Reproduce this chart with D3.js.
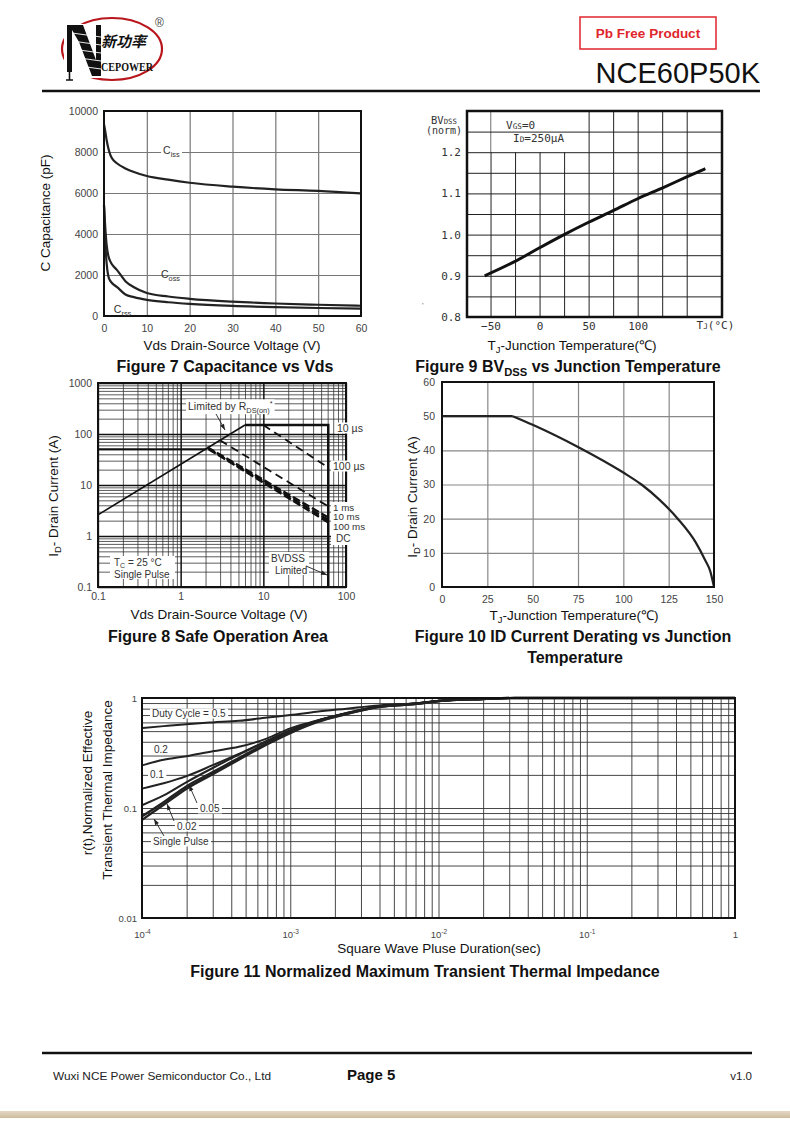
<!DOCTYPE html>
<html>
<head>
<meta charset="utf-8">
<script src="https://cdn.jsdelivr.net/npm/d3@7"></script>
<style>
body { margin: 0; background: #fff; }
</style>
</head>
<body>
<div id="page"></div>
<script>
// ---- Figure 7 : capacitance vs Vds
const capV  = [0, 0.3, 0.6, 1, 1.5, 2, 3, 5, 7, 10, 15, 20, 30, 40, 50, 60];
const ciss  = [9350, 9000, 8600, 8200, 7850, 7650, 7450, 7200, 7020, 6830, 6650, 6500, 6310, 6180, 6100, 5980];
const coss  = [5400, 4300, 3500, 2950, 2650, 2480, 2250, 1700, 1400, 1120, 950, 840, 700, 610, 550, 500];
const crss  = [5400, 3600, 2600, 1950, 1700, 1580, 1420, 1050, 920, 790, 670, 590, 490, 430, 390, 360];
const capXTicks = [0, 10, 20, 30, 40, 50, 60];
const capYTicks = [0, 2000, 4000, 6000, 8000, 10000];

// ---- Figure 9 : BVdss (norm) vs Tj
const bvTj   = [-56, -25, 0, 25, 50, 75, 100, 125, 150, 169];
const bvNorm = [0.900, 0.935, 0.968, 1.000, 1.030, 1.058, 1.087, 1.113, 1.140, 1.160];
const bvXTicks = [-50, 0, 50, 100];
const bvYTicks = [0.8, 0.9, 1.0, 1.1, 1.2];

// ---- Figure 8 : safe operating area (V, A)
const soaRdsV = [0.1, 6];       const soaRdsI = [2.6, 150];
const soaPkgV = [0.1, 2.05];    const soaPkgI = [50, 50];
const soaTopV = [6, 61, 61];    const soaTopI = [150, 150, 0.1];
const soa10usV = [10, 61];      const soa10usI = [150, 22];
const soa100usV = [3, 61];      const soa100usI = [75, 3.8];
const soa1msV = [2.1, 61];      const soa1msI = [55, 2.3];
const soa10msV = [2.15, 61];    const soa10msI = [52, 2.05];
const soa100msV = [2.2, 61];    const soa100msI = [50, 1.85];
const soaXTicks = [0.1, 1, 10, 100];
const soaYTicks = [0.1, 1, 10, 100, 1000];

// ---- Figure 10 : Id derating
const derTj = [0, 39, 50, 75, 100, 110, 120, 130, 140, 145, 148, 150];
const derId = [50, 50, 47.5, 41, 33.5, 30, 25.5, 20, 13, 8, 4.5, 0];
const derXTicks = [0, 25, 50, 75, 100, 125, 150];
const derYTicks = [0, 10, 20, 30, 40, 50, 60];

// ---- Figure 11 : transient thermal impedance
const zthT    = [1e-4, 1.4e-4, 2e-4, 3e-4, 4.5e-4, 7e-4, 1e-3, 1.5e-3, 2.4e-3, 4e-3, 7.5e-3, 1e-2, 2e-2, 3.3e-2, 1e-1, 1];
const zthD50  = [0.533, 0.555, 0.578, 0.600, 0.620, 0.665, 0.700, 0.750, 0.800, 0.857, 0.900, 0.940, 0.980, 1, 1, 1];
const zthD20  = [0.244, 0.274, 0.296, 0.328, 0.360, 0.430, 0.530, 0.620, 0.730, 0.840, 0.900, 0.940, 0.980, 1, 1, 1];
const zthD10  = [0.150, 0.168, 0.195, 0.245, 0.310, 0.410, 0.510, 0.620, 0.730, 0.840, 0.900, 0.940, 0.980, 1, 1, 1];
const zthD05  = [0.106, 0.130, 0.172, 0.231, 0.305, 0.405, 0.500, 0.615, 0.725, 0.835, 0.895, 0.940, 0.980, 1, 1, 1];
const zthD02  = [0.084, 0.113, 0.158, 0.212, 0.285, 0.390, 0.490, 0.610, 0.720, 0.830, 0.890, 0.940, 0.980, 1, 1, 1];
const zthSgl  = [0.078, 0.107, 0.150, 0.203, 0.275, 0.380, 0.480, 0.600, 0.715, 0.830, 0.890, 0.940, 0.980, 1, 1, 1];
const zthXTicks = [1e-4, 1e-3, 1e-2, 1e-1, 1];
const zthYTicks = [0.01, 0.1, 1];

const SANS = "Liberation Sans, Arial, sans-serif";
const svg = d3.select("#page").append("svg")
    .attr("width", 790).attr("height", 1129)
    .attr("font-family", SANS)
    .style("display", "block");

const zip = (a, b) => a.map((v, i) => [v, b[i]]);

function logGrid(lo, hi) {
    const out = [];
    for (let d = lo; d < hi * 0.999; d *= 10)
        for (let k = 1; k < 10; k++) out.push(d * k);
    out.push(hi);
    return out;
}

function gridX(g, x, vals, h, color, sw) {
    g.append("g").attr("transform", `translate(0,${h})`)
        .call(d3.axisBottom(x).tickValues(vals).tickSize(-h).tickFormat(""))
        .call(s => { s.select(".domain").remove(); s.selectAll("line").attr("stroke", color).attr("stroke-width", sw); });
}
function gridY(g, y, vals, w, color, sw) {
    g.append("g")
        .call(d3.axisLeft(y).tickValues(vals).tickSize(-w).tickFormat(""))
        .call(s => { s.select(".domain").remove(); s.selectAll("line").attr("stroke", color).attr("stroke-width", sw); });
}
function tickLabels(g, axis, tr, size, color, family) {
    const a = g.append("g").attr("transform", tr).call(axis.tickSize(0));
    a.select(".domain").remove();
    a.attr("font-family", family || SANS);
    a.selectAll("text").attr("font-size", size).attr("fill", color);
    return a;
}
function frame(g, w, h, sw) {
    g.append("rect").attr("width", w).attr("height", h)
        .attr("fill", "none").attr("stroke", "#111").attr("stroke-width", sw);
}
// text made of parts [str, kind] kind: undefined | "sub" | "sup" | "small"
function rich(g, x, y, parts, size, opts = {}) {
    const t = g.append("text").attr("x", x).attr("y", y).attr("font-size", size)
        .attr("text-anchor", opts.anchor || "start")
        .attr("font-weight", opts.bold ? "bold" : null)
        .attr("fill", opts.fill || "#111");
    if (opts.family) t.attr("font-family", opts.family);
    if (opts.rotate) t.attr("transform", `rotate(-90,${x},${y})`);
    let shift = 0;
    parts.forEach(([s, kind]) => {
        const ts = t.append("tspan").text(s);
        let target = 0;
        if (kind === "sub") target = size * 0.25;
        if (kind === "sup") target = -size * 0.4;
        if (kind) ts.attr("font-size", size * 0.7);
        ts.attr("dy", target - shift);
        shift = target;
    });
    if (opts.bg) {
        const b = t.node().getBBox();
        g.insert("rect", () => t.node())
            .attr("x", b.x - 2).attr("y", b.y + 0.5).attr("width", b.width + 4).attr("height", b.height - 1)
            .attr("fill", "#fff");
    }
    return t;
}
function arrow(g, x1, y1, x2, y2) {
    g.append("line").attr("x1", x1).attr("y1", y1).attr("x2", x2).attr("y2", y2)
        .attr("stroke", "#222").attr("stroke-width", 0.9);
    const a = Math.atan2(y2 - y1, x2 - x1), L = 6, W = 2.2;
    const bx = x2 - L * Math.cos(a), by = y2 - L * Math.sin(a);
    g.append("path").attr("fill", "#222")
        .attr("d", `M${x2},${y2}L${bx - W * Math.sin(a)},${by + W * Math.cos(a)}L${bx + W * Math.sin(a)},${by - W * Math.cos(a)}Z`);
}

// ================= header =================
const hd = svg.append("g");
hd.append("ellipse").attr("cx", 112).attr("cy", 49).attr("rx", 50).attr("ry", 31)
    .attr("fill", "none").attr("stroke", "#b8161c").attr("stroke-width", 2.2);
hd.append("rect").attr("x", 64).attr("y", 24).attr("width", 38).attr("height", 54).attr("fill", "#fff");
hd.append("path").attr("fill", "#111")
    .attr("d", "M67,25 L72,25 L72,72 L67,72 Z M72,25 L83,25 L96,60 L96,25 L101,25 L101,76 L92,76 L79,42 L72,30 Z");
[33, 41, 49, 57, 65].forEach(yy =>
    hd.append("line").attr("x1", 72).attr("x2", 101).attr("y1", yy).attr("y2", yy + 4)
        .attr("stroke", "#fff").attr("stroke-width", 0.9));
hd.append("path").attr("d", "M69.5,72 L69.5,80 M66,80 L73,80").attr("stroke", "#111").attr("stroke-width", 1.6).attr("fill", "none");
hd.append("text").attr("x", 101).attr("y", 47).attr("font-size", 15).attr("font-weight", "bold")
    .attr("font-style", "italic").attr("font-family", "Noto Sans CJK SC").attr("fill", "#111").text("新功率");
hd.append("text").attr("x", 101).attr("y", 71).attr("font-size", 12.5).attr("font-weight", "bold")
    .attr("font-family", "Liberation Serif, serif").attr("fill", "#111")
    .attr("textLength", 52).attr("lengthAdjust", "spacingAndGlyphs").text("CEPOWER");
hd.append("text").attr("x", 155).attr("y", 27).attr("font-size", 12).attr("fill", "#444").text("®");
hd.append("rect").attr("x", 580).attr("y", 17).attr("width", 136).attr("height", 32)
    .attr("fill", "#fff").attr("stroke", "#e0262c").attr("stroke-width", 1.5);
hd.append("text").attr("x", 648).attr("y", 38).attr("text-anchor", "middle").attr("font-size", 13.5)
    .attr("font-weight", "bold").attr("fill", "#e0262c").text("Pb Free Product");
hd.append("text").attr("x", 760).attr("y", 83).attr("text-anchor", "end").attr("font-size", 29)
    .attr("fill", "#111").text("NCE60P50K");
hd.append("line").attr("x1", 42).attr("x2", 760).attr("y1", 91).attr("y2", 91)
    .attr("stroke", "#111").attr("stroke-width", 2.5);

// ================= Figure 7 =================
{
    const L = 104, T = 111, W = 257, H = 205;
    const g = svg.append("g").attr("transform", `translate(${L},${T})`);
    const x = d3.scaleLinear().domain([0, 60]).range([0, W]);
    const y = d3.scaleLinear().domain([0, 10000]).range([H, 0]);
    gridX(g, x, capXTicks.slice(1, -1), H, "#777", 1.2);
    gridY(g, y, capYTicks.slice(1, -1), W, "#777", 1.2);
    const line = d3.line().x(d => x(d[0])).y(d => y(d[1])).curve(d3.curveMonotoneX);
    [ciss, coss, crss].forEach(s =>
        g.append("path").datum(zip(capV, s)).attr("d", line)
            .attr("fill", "none").attr("stroke", "#222").attr("stroke-width", 2.2));
    frame(g, W, H, 2);
    tickLabels(g, d3.axisBottom(x).tickValues(capXTicks).tickPadding(9), `translate(0,${H})`, 10.5, "#444");
    tickLabels(g, d3.axisLeft(y).tickValues(capYTicks).tickPadding(6).tickFormat(d => d), "translate(0,0)", 10.5, "#444");
    rich(g, x(13.8), y(7900), [["C"], ["iss", "sub"]], 10.5, { bg: true, fill: "#333" });
    rich(g, x(13.3), y(1850), [["C"], ["oss", "sub"]], 10.5, { fill: "#333" });
    rich(g, x(2.3), y(150), [["C"], ["rss", "sub"]], 10.5, { fill: "#333" });
    rich(svg, 50, 213, [["C Capacitance (pF)"]], 13.5, { anchor: "middle", rotate: true });
    rich(svg, 232, 350, [["Vds Drain-Source Voltage (V)"]], 13.5, { anchor: "middle" });
    rich(svg, 225, 372, [["Figure 7 Capacitance vs Vds"]], 16, { anchor: "middle", bold: true });
}

// ================= Figure 9 =================
{
    const L = 467, T = 111, W = 255, H = 206;
    const mono = "DejaVu Sans Mono, monospace";
    const g = svg.append("g").attr("transform", `translate(${L},${T})`);
    const x = d3.scaleLinear().domain([-74, 186]).range([0, W]);
    const y = d3.scaleLinear().domain([0.8, 1.3]).range([H, 0]);
    gridX(g, x, [-50, -25, 0, 25, 50, 75, 100, 125, 150], H, "#222", 1);
    g.append("rect").attr("x", x(-50) + 0.8).attr("y", 1).attr("width", x(50) - x(-50) - 1.6)
        .attr("height", y(1.2) - 1).attr("fill", "#fff");
    gridY(g, y, [0.85, 0.9, 0.95, 1.0, 1.05, 1.1, 1.15, 1.2, 1.25], W, "#222", 1);
    g.append("path").datum(zip(bvTj, bvNorm))
        .attr("d", d3.line().x(d => x(d[0])).y(d => y(d[1])).curve(d3.curveMonotoneX))
        .attr("fill", "none").attr("stroke", "#111").attr("stroke-width", 3);
    frame(g, W, H, 2.5);
    tickLabels(g, d3.axisBottom(x).tickValues(bvXTicks).tickPadding(5)
        .tickFormat(d => d < 0 ? "\u2212" + Math.abs(d) : d), `translate(0,${H})`, 11, "#333", mono);
    tickLabels(g, d3.axisLeft(y).tickValues(bvYTicks).tickPadding(6).tickFormat(d3.format(".1f")),
        "translate(0,0)", 11, "#333", mono);
    rich(g, x(160), H + 12, [["T"], ["J", "small"], ["(°C)"]], 11, { family: mono, fill: "#333" });
    rich(svg, 431, 124, [["BV"], ["DSS", "small"]], 10.5, { family: mono, fill: "#333" });
    rich(svg, 426, 134, [["(norm)"]], 10, { family: mono, fill: "#333" });
    rich(svg, 506, 129, [["V"], ["GS", "small"], ["=0"]], 11, { family: mono, fill: "#333" });
    rich(svg, 513, 142, [["I"], ["D", "small"], ["=250\u03bcA"]], 11, { family: mono, fill: "#333" });
    rich(svg, 422, 308, [["'"]], 8, { fill: "#666" });
    rich(svg, 572, 350, [["T"], ["J", "sub"], ["-Junction Temperature(\u2103)"]], 13.5, { anchor: "middle" });
    rich(svg, 568, 372, [["Figure 9 BV"], ["DSS", "sub"], [" vs Junction Temperature"]], 16, { anchor: "middle", bold: true });
}

// ================= Figure 8 =================
{
    const L = 98, T = 383, W = 248, H = 204;
    const g = svg.append("g").attr("transform", `translate(${L},${T})`);
    const x = d3.scaleLog().domain([0.1, 100]).range([0, W]);
    const y = d3.scaleLog().domain([0.1, 1000]).range([H, 0]);
    gridX(g, x, logGrid(0.1, 100), H, "#333", 0.8);
    gridY(g, y, logGrid(0.1, 1000), W, "#333", 0.8);
    gridX(g, x, soaXTicks, H, "#111", 1.3);
    gridY(g, y, soaYTicks, W, "#111", 1.3);
    const line = d3.line().x(d => x(d[0])).y(d => y(d[1]));
    const draw = (vs, is, sw, dash) => g.append("path").datum(zip(vs, is)).attr("d", line)
        .attr("fill", "none").attr("stroke", "#111").attr("stroke-width", sw)
        .attr("stroke-dasharray", dash || null);
    draw(soaRdsV, soaRdsI, 1.6);
    draw(soaPkgV, soaPkgI, 2);
    draw(soaTopV, soaTopI, 2.5);
    draw(soa10usV, soa10usI, 1.8, "8,5");
    draw(soa100usV, soa100usI, 1.8, "8,5");
    draw(soa1msV, soa1msI, 2.4, "8,3");
    draw(soa10msV, soa10msI, 2.4, "8,3");
    draw(soa100msV, soa100msI, 2.4, "8,3");
    frame(g, W, H, 2);
    tickLabels(g, d3.axisBottom(x).tickValues(soaXTicks).tickPadding(6).tickFormat(d => d), `translate(0,${H})`, 10.5, "#444");
    tickLabels(g, d3.axisLeft(y).tickValues(soaYTicks).tickPadding(6).tickFormat(d => d), "translate(0,0)", 10.5, "#444");
    const lab = svg.append("g");
    lab.append("rect").attr("x", 331).attr("y", 502).attr("width", 42).attr("height", 43).attr("fill", "#fff");
    rich(lab, 337, 432, [["10 \u00b5s"]], 10.5, { bg: true, fill: "#333" });
    rich(lab, 333, 470, [["100 \u00b5s"]], 10.5, { bg: true, fill: "#333" });
    rich(lab, 333, 510.5, [["1 ms"]], 9.8, { fill: "#333" });
    rich(lab, 333, 520, [["10 ms"]], 9.8, { fill: "#333" });
    rich(lab, 333, 529.5, [["100 ms"]], 9.8, { fill: "#333" });
    rich(lab, 336, 541.5, [["DC"]], 10, { fill: "#333" });
    rich(lab, 188, 410, [["Limited by R"], ["DS(on)", "sub"], ["*", "sup"]], 10.5, { bg: true, fill: "#333" });
    arrow(lab, 216, 414, 225, 430);
    lab.append("rect").attr("x", 110).attr("y", 556).attr("width", 65).attr("height", 23).attr("fill", "#fff");
    rich(lab, 114, 565.5, [["T"], ["C", "sub"], [" = 25 \u00b0C"]], 10, { fill: "#333" });
    rich(lab, 114, 577.5, [["Single Pulse"]], 10, { fill: "#333" });
    lab.append("rect").attr("x", 269).attr("y", 552).attr("width", 40).attr("height", 23).attr("fill", "#fff");
    rich(lab, 271, 561.5, [["BVDSS"]], 10, { fill: "#333" });
    rich(lab, 275, 573.5, [["Limited"]], 10, { fill: "#333" });
    arrow(lab, 306, 566, 327, 575);
    rich(svg, 58, 496, [["I"], ["D", "sub"], ["- Drain Current (A)"]], 13.5, { anchor: "middle", rotate: true });
    rich(svg, 219, 619, [["Vds Drain-Source Voltage (V)"]], 13.5, { anchor: "middle" });
    rich(svg, 218, 642, [["Figure 8 Safe Operation Area"]], 16, { anchor: "middle", bold: true });
}

// ================= Figure 10 =================
{
    const L = 442, T = 382, W = 272, H = 205;
    const g = svg.append("g").attr("transform", `translate(${L},${T})`);
    const x = d3.scaleLinear().domain([0, 150]).range([0, W]);
    const y = d3.scaleLinear().domain([0, 60]).range([H, 0]);
    gridX(g, x, derXTicks.slice(1, -1), H, "#888", 1.2);
    gridY(g, y, derYTicks.slice(1, -1), W, "#888", 1.2);
    const pts = zip(derTj, derId);
    g.append("path").datum(pts.slice(0, 2))
        .attr("d", d3.line().x(d => x(d[0])).y(d => y(d[1])))
        .attr("fill", "none").attr("stroke", "#222").attr("stroke-width", 2.2);
    g.append("path").datum(pts.slice(1))
        .attr("d", d3.line().x(d => x(d[0])).y(d => y(d[1])).curve(d3.curveMonotoneX))
        .attr("fill", "none").attr("stroke", "#222").attr("stroke-width", 2.2);
    frame(g, W, H, 2);
    tickLabels(g, d3.axisBottom(x).tickValues(derXTicks).tickPadding(9), `translate(0,${H})`, 10.5, "#444");
    tickLabels(g, d3.axisLeft(y).tickValues(derYTicks).tickPadding(7), "translate(0,0)", 10.5, "#444");
    rich(svg, 417, 497, [["I"], ["D", "sub"], ["- Drain Current (A)"]], 13.5, { anchor: "middle", rotate: true });
    rich(svg, 574, 620, [["T"], ["J", "sub"], ["-Junction Temperature(\u2103)"]], 13.5, { anchor: "middle" });
    rich(svg, 573, 642, [["Figure 10 ID Current Derating vs Junction"]], 16, { anchor: "middle", bold: true });
    rich(svg, 575, 663, [["Temperature"]], 16, { anchor: "middle", bold: true });
}

// ================= Figure 11 =================
{
    const L = 142, T = 698, W = 593, H = 220;
    const g = svg.append("g").attr("transform", `translate(${L},${T})`);
    const x = d3.scaleLog().domain([1e-4, 1]).range([0, W]);
    const y = d3.scaleLog().domain([0.01, 1]).range([H, 0]);
    gridX(g, x, logGrid(1e-4, 1), H, "#333", 0.9);
    gridY(g, y, logGrid(0.01, 1), W, "#333", 0.9);
    const line = d3.line().x(d => x(d[0])).y(d => y(d[1])).curve(d3.curveMonotoneX);
    [[zthD50, 2], [zthD20, 2], [zthD10, 2], [zthD05, 2], [zthD02, 2.4], [zthSgl, 2.4]].forEach(([s, sw]) =>
        g.append("path").datum(zip(zthT, s)).attr("d", line)
            .attr("fill", "none").attr("stroke", "#222").attr("stroke-width", sw));
    frame(g, W, H, 2);
    const xa = tickLabels(g, d3.axisBottom(x).tickValues(zthXTicks).tickPadding(13), `translate(0,${H})`, 9.5, "#444");
    xa.selectAll("text").each(function (d) {
        const t = d3.select(this).text(null);
        const e = Math.round(Math.log10(d));
        if (e === 0) { t.text("1"); return; }
        t.append("tspan").text("10");
        t.append("tspan").attr("dy", -4).attr("font-size", 6.5).text(String(e));
    });
    tickLabels(g, d3.axisLeft(y).tickValues(zthYTicks).tickPadding(5).tickFormat(d => d), "translate(0,0)", 9.5, "#444");
    const lab = svg.append("g");
    rich(lab, 152, 717, [["Duty Cycle = 0.5"]], 10, { bg: true, fill: "#333" });
    rich(lab, 154, 753, [["0.2"]], 10, { bg: true, fill: "#333" });
    rich(lab, 150, 778, [["0.1"]], 10, { bg: true, fill: "#333" });
    rich(lab, 200, 812, [["0.05"]], 10, { bg: true, fill: "#333" });
    rich(lab, 177, 830, [["0.02"]], 10, { bg: true, fill: "#333" });
    rich(lab, 153, 845, [["Single Pulse"]], 10, { bg: true, fill: "#333" });
    arrow(lab, 197, 803, 189, 785);
    arrow(lab, 174, 821, 167, 804);
    arrow(lab, 164, 836, 154, 819);
    rich(svg, 92, 783, [["r(t),Normalized Effective"]], 13.5, { anchor: "middle", rotate: true });
    rich(svg, 112, 790, [["Transient Thermal Impedance"]], 13.5, { anchor: "middle", rotate: true });
    rich(svg, 439, 953, [["Square Wave Pluse Duration(sec)"]], 13.5, { anchor: "middle" });
    rich(svg, 425, 977, [["Figure 11 Normalized Maximum Transient Thermal Impedance"]], 16, { anchor: "middle", bold: true });
}

// ================= footer =================
svg.append("line").attr("x1", 42).attr("x2", 752).attr("y1", 1053).attr("y2", 1053)
    .attr("stroke", "#111").attr("stroke-width", 2.5);
svg.append("text").attr("x", 53).attr("y", 1080).attr("font-size", 11.5).attr("fill", "#222")
    .attr("textLength", 218).attr("lengthAdjust", "spacingAndGlyphs")
    .text("Wuxi NCE Power Semiconductor Co., Ltd");
svg.append("text").attr("x", 347).attr("y", 1080).attr("font-size", 15).attr("font-weight", "bold")
    .attr("fill", "#111").text("Page 5");
svg.append("text").attr("x", 752).attr("y", 1080).attr("text-anchor", "end").attr("font-size", 11.5)
    .attr("fill", "#222").text("v1.0");
const grad = svg.append("defs").append("linearGradient").attr("id", "band").attr("x1", 0).attr("x2", 0).attr("y1", 0).attr("y2", 1);
grad.append("stop").attr("offset", 0).attr("stop-color", "#e4d8c4");
grad.append("stop").attr("offset", 1).attr("stop-color", "#cdbb9d");
svg.append("rect").attr("x", 0).attr("y", 1111).attr("width", 790).attr("height", 7).attr("fill", "url(#band)");
</script>
</body>
</html>
